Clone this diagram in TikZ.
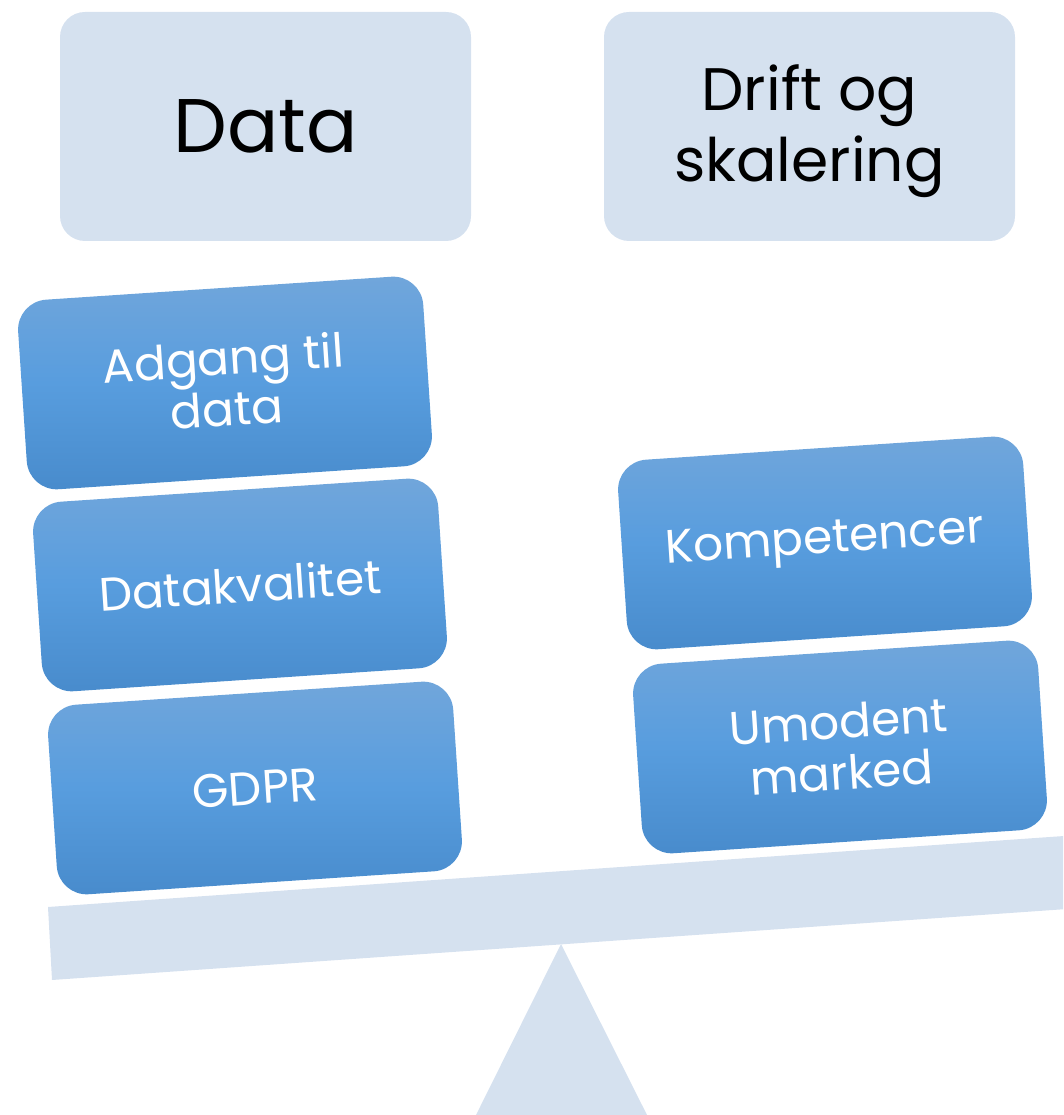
\documentclass[tikz,border=0pt]{standalone}
\usepackage{fontspec}
\setmainfont{Poppins}
\definecolor{lightbox}{HTML}{D5E1EF}
\definecolor{blueTop}{HTML}{71A6DB}
\definecolor{blueMid}{HTML}{589DDE}
\definecolor{blueBot}{HTML}{488BCC}
\tikzset{
  headbox/.style={fill=lightbox, rounded corners=25pt, minimum width=411pt, minimum height=229pt, inner sep=0pt, align=center, text=black},
  itembox/.style={rounded corners=30pt, minimum width=406pt, minimum height=190pt, inner sep=0pt, align=center, text=white, top color=blueTop, bottom color=blueBot, middle color=blueMid, rotate=3.8, font=\fontsize{47pt}{51pt}\selectfont},
  scalepart/.style={fill=lightbox, draw=none}
}
\begin{document}
\begin{tikzpicture}[x=1pt,y=1pt]
\useasboundingbox (0,0) rectangle (1063,1115);
\clip (0,0) rectangle (1063,1115);
\node[headbox, font=\fontsize{76pt}{80pt}\selectfont] (data) at (265.5,988.5) {Data};
\node[headbox, font=\fontsize{60pt}{71pt}\selectfont] (drift) at (809.5,988.5) {};
\node[font=\fontsize{60pt}{71pt}\selectfont, align=center, inner sep=0pt] (drifttxt) at ([yshift=-5pt]drift.center) {Drift og\\skalering};
\fill[scalepart] (561,171) -- (470.9,-10.3) -- (652.2,-10.3) -- cycle;
\fill[scalepart] (52,135) -- (1100,208.3) -- (1100,281.5) -- (48,208) -- cycle;
\node[itembox] (adgang) at (225,732) {Adgang til\\data};
\node[itembox] (kval) at (240,530) {Datakvalitet};
\node[itembox] (gdpr) at (255,327) {GDPR};
\node[itembox] (komp) at (825,572) {Kompetencer};
\node[itembox] (umod) at (840,368) {Umodent\\marked};
\end{tikzpicture}
\end{document}
